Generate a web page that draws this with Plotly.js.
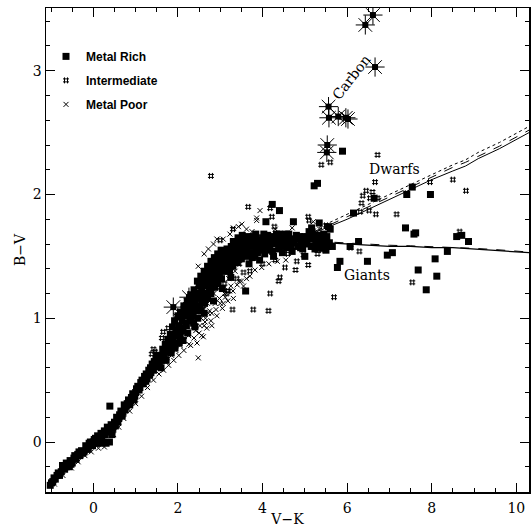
<!DOCTYPE html>
<html><head><meta charset="utf-8">
<script src="https://cdn.plot.ly/plotly-3.0.1.min.js"></script>
<style>body{margin:0;background:#fff}#plot{width:532px;height:527px}</style>
</head><body><div id="plot"></div>
<script>
// ---- Data ----
var mrLower = [[-1.02,-0.35],[-0.96,-0.32],[-0.9,-0.3],[-0.86,-0.27],[-0.8,-0.27],[-0.76,-0.24],[-0.73,-0.19],[-0.68,-0.22],[-0.62,-0.19],[-0.57,-0.2],[-0.55,-0.15],[-0.5,-0.17],[-0.46,-0.13],[-0.41,-0.14],[-0.37,-0.1],[-0.32,-0.11],[-0.28,-0.07],[-0.22,-0.08],[-0.18,-0.03],[-0.12,-0.05],[-0.07,0.0],[-0.02,-0.03],[0.02,0.02],[0.07,-0.01],[0.1,0.05],[0.15,-0.01],[0.18,0.07],[0.22,0.0],[0.26,0.09],[0.3,-0.01],[0.33,0.12],[0.38,0.0],[0.42,0.14],[0.44,0.06],[0.39,0.29],[0.5,0.16],[0.55,0.2],[0.6,0.19],[0.65,0.25],[0.7,0.24],[0.73,0.3],[0.78,0.29],[0.83,0.34],[0.88,0.33],[0.93,0.39],[0.98,0.37],[1.02,0.43],[1.08,0.42],[1.12,0.48],[1.18,0.47],[1.21,0.53],[1.27,0.51],[1.31,0.58],[1.36,0.56],[1.39,0.63],[1.45,0.61],[1.48,0.67],[1.53,0.64]];
var mrLowerFill = [[-0.99,-0.33],[-0.93,-0.29],[-0.83,-0.25],[-0.7,-0.2],[-0.64,-0.17],[-0.53,-0.18],[-0.44,-0.11],[-0.34,-0.08],[-0.25,-0.09],[-0.15,-0.06],[-0.1,-0.01],[0.0,0.0],[0.05,0.03],[0.13,0.02],[0.2,0.04],[0.28,0.06],[0.35,0.08],[0.46,0.11],[0.52,0.13],[0.58,0.16],[0.62,0.22],[0.68,0.21],[0.75,0.26],[0.8,0.31],[0.86,0.3],[0.9,0.36],[0.96,0.34],[1.0,0.4],[1.05,0.45],[1.1,0.44],[1.15,0.5],[1.24,0.49],[1.25,0.55],[1.33,0.54],[1.35,0.6],[1.42,0.58],[1.44,0.65],[1.5,0.7]];
var mrMiddle = [[1.56,0.62],[1.58,0.7],[1.62,0.66],[1.64,0.75],[1.68,0.69],[1.7,0.79],[1.74,0.73],[1.76,0.83],[1.8,0.76],[1.82,0.87],[1.85,0.81],[1.87,0.93],[1.9,0.86],[1.92,0.98],[1.95,0.9],[1.97,0.8],[2.0,1.02],[2.02,0.94],[2.05,0.85],[2.06,1.05],[2.1,0.98],[2.12,0.9],[2.14,1.1],[2.17,1.02],[2.2,0.94],[2.22,1.14],[2.25,1.06],[2.28,0.98],[2.3,1.19],[2.33,1.1],[2.36,1.02],[2.38,1.23],[2.41,1.14],[2.44,1.06],[2.46,1.3],[2.48,1.2],[2.51,1.1],[2.54,1.34],[2.56,1.25],[2.58,1.15],[2.62,1.38],[2.64,1.29],[2.66,1.2],[2.7,1.42],[2.72,1.33],[2.74,1.24],[2.78,1.46],[2.8,1.37],[2.82,1.28],[2.86,1.49],[2.88,1.4],[2.9,1.31],[2.94,1.52],[2.96,1.43],[2.98,1.35],[3.02,1.55],[3.04,1.46],[3.06,1.38],[3.1,1.5],[3.12,1.41],[3.16,1.56],[3.18,1.45]];
var mrMiddleFill = [[1.6,0.6],[1.66,0.72],[1.72,0.66],[1.78,0.8],[1.84,0.72],[1.88,0.84],[1.93,0.76],[1.99,0.88],[2.03,0.8],[2.08,1.01],[2.08,0.92],[2.12,0.82],[2.16,1.06],[2.18,0.96],[2.23,0.88],[2.24,1.1],[2.27,1.02],[2.32,1.15],[2.34,1.06],[2.37,0.96],[2.4,1.19],[2.43,1.1],[2.47,1.0],[2.5,1.26],[2.52,1.16],[2.55,1.06],[2.58,1.31],[2.6,1.2],[2.63,1.12],[2.67,1.35],[2.68,1.26],[2.7,1.16],[2.75,1.4],[2.76,1.3],[2.78,1.2],[2.84,1.45],[2.85,1.34],[2.87,1.25],[2.92,1.48],[2.93,1.38],[2.95,1.28],[3.0,1.5],[3.01,1.41],[3.03,1.32],[3.08,1.54],[3.08,1.44],[3.14,1.48],[3.14,1.38],[3.2,1.52],[3.2,1.42],[2.4,0.93],[2.62,1.04],[2.84,1.14],[3.05,1.24],[3.25,1.33]];
var mrUpper = [[3.22,1.38],[3.24,1.49],[3.26,1.58],[3.3,1.42],[3.33,1.52],[3.36,1.61],[3.4,1.45],[3.43,1.55],[3.46,1.63],[3.5,1.48],[3.53,1.57],[3.57,1.65],[3.6,1.5],[3.64,1.59],[3.68,1.44],[3.7,1.62],[3.74,1.53],[3.78,1.66],[3.82,1.5],[3.85,1.58],[3.9,1.63],[3.93,1.47],[3.97,1.55],[4.0,1.65],[4.05,1.52],[4.08,1.6],[4.12,1.67],[4.17,1.55],[4.2,1.62],[4.26,1.5],[4.3,1.6],[4.33,1.68],[4.38,1.56],[4.42,1.64],[4.47,1.53],[4.5,1.6],[4.55,1.68],[4.6,1.57],[4.65,1.64],[4.7,1.54],[4.74,1.61],[4.8,1.67],[4.84,1.58],[4.9,1.63],[4.95,1.56],[5.0,1.66],[5.05,1.6],[5.1,1.7],[5.15,1.58],[5.2,1.64],[5.26,1.6],[5.3,1.67],[5.36,1.57],[5.42,1.63],[5.47,1.59],[5.52,1.66],[5.58,1.61]];
var mrUpperFill = [[3.25,1.44],[3.28,1.54],[3.31,1.62],[3.35,1.47],[3.38,1.56],[3.42,1.65],[3.45,1.5],[3.48,1.59],[3.52,1.67],[3.55,1.53],[3.6,1.62],[3.62,1.55],[3.66,1.66],[3.72,1.58],[3.76,1.49],[3.8,1.62],[3.84,1.68],[3.88,1.53],[3.95,1.6],[4.02,1.57],[4.03,1.68],[4.1,1.64],[4.15,1.58],[4.22,1.66],[4.24,1.54],[4.28,1.64],[4.36,1.61],[4.4,1.68],[4.45,1.58],[4.52,1.64],[4.58,1.61],[4.62,1.68],[4.68,1.59],[4.77,1.64],[4.87,1.66],[4.92,1.6],[5.02,1.62],[5.08,1.65],[5.18,1.68],[5.24,1.56],[5.33,1.62],[5.45,1.68],[5.55,1.58]];
var mrScatter = [[3.6,1.22],[4.08,1.78],[4.23,1.92],[4.4,1.87],[4.73,1.78],[5.16,1.73],[5.34,1.77],[5.22,2.07],[5.3,2.09],[5.56,1.74],[5.6,1.72],[5.89,2.35],[6.15,1.85],[6.64,1.97],[7.54,2.06],[7.41,2.0],[7.97,2.0],[7.38,1.73],[7.58,1.68],[7.62,1.69],[8.59,1.66],[8.71,1.67],[8.87,1.62],[8.37,1.54],[8.08,1.48],[7.68,1.39],[8.12,1.34],[7.87,1.23],[6.95,1.51],[7.07,1.53],[6.48,1.46],[6.27,1.62],[5.83,1.46],[5.77,1.41],[5.0,1.5],[4.9,1.57],[5.4,1.6],[5.5,1.55],[5.65,1.58],[6.07,1.58]];
var intermediate = [[2.78,2.15],[3.66,1.9],[4.18,1.89],[4.22,1.82],[4.28,1.74],[5.08,1.82],[5.1,1.79],[5.39,2.24],[5.6,2.26],[6.72,2.32],[6.66,2.1],[6.6,2.02],[6.45,2.03],[6.37,1.99],[6.34,1.93],[6.54,1.97],[6.72,1.97],[6.31,1.86],[6.52,1.87],[6.68,1.84],[7.17,1.84],[7.41,2.01],[7.96,2.1],[8.5,2.12],[8.81,2.03],[8.66,1.7],[7.54,1.29],[5.69,1.17],[4.18,1.2],[4.14,1.06],[4.38,1.3],[4.41,1.33],[4.53,1.41],[4.78,1.39],[3.29,1.07],[3.78,1.07],[3.39,1.32],[3.55,1.37],[4.81,1.46],[5.08,1.43],[6.08,1.57],[6.29,1.54],[5.4,1.55],[4.97,1.51],[2.13,1.08],[2.82,1.44],[2.84,1.47],[3.15,1.2],[3.18,1.22],[1.77,0.92],[1.65,0.89],[1.62,0.84],[1.42,0.75],[1.38,0.71],[1.46,0.73],[2.56,1.31],[2.74,1.4],[3.3,1.72],[3.0,1.63],[5.4,1.68],[5.5,1.75],[5.2,1.66],[4.95,1.6],[4.6,1.52],[4.3,1.47],[4.0,1.44],[3.7,1.38],[2.4,1.0],[2.6,1.1],[2.9,1.25],[3.1,1.28],[3.45,1.44],[3.9,1.57],[4.5,1.68],[5.3,1.52]];
var metalPoor = [[-0.92,-0.34],[-0.72,-0.27],[-0.52,-0.21],[-0.36,-0.16],[-0.2,-0.11],[-0.05,-0.08],[0.12,-0.05],[0.26,-0.04],[0.48,0.06],[0.6,0.12],[0.72,0.19],[0.86,0.25],[1.0,0.31],[1.14,0.37],[1.28,0.44],[1.42,0.5],[1.55,0.55],[1.66,0.58],[1.78,0.62],[1.9,0.66],[2.02,0.7],[2.14,0.74],[2.26,0.79],[2.38,0.84],[2.48,0.68],[2.5,0.88],[2.6,0.85],[2.62,0.94],[2.64,0.97],[2.72,1.04],[2.8,0.94],[2.8,1.04],[2.9,1.07],[3.0,1.12],[3.07,1.12],[3.12,1.17],[3.22,1.22],[3.31,1.16],[3.4,1.27],[3.5,1.3],[3.62,1.32],[3.82,1.39],[3.98,1.41],[4.15,1.44],[4.35,1.46],[4.55,1.47],[2.2,0.88],[2.35,0.93],[2.55,1.0],[2.7,1.12],[2.85,1.2],[3.0,1.25],[3.2,1.32],[3.35,1.38],[2.46,1.27],[2.48,1.42],[2.62,1.52],[2.72,1.56],[2.84,1.6],[2.92,1.64],[3.07,1.64],[3.23,1.68],[3.31,1.73],[3.43,1.74],[3.51,1.76],[3.86,1.79],[3.94,1.87],[3.86,1.81],[3.62,1.72],[3.75,1.7],[2.3,1.2],[2.2,1.14],[2.05,1.06],[1.95,1.02],[5.2,1.78],[4.3,1.72],[4.7,1.73],[5.35,1.72]];
var metalPoorFringe = [[1.85,0.7],[1.95,0.74],[2.05,0.78],[2.15,0.82],[2.25,0.86],[2.3,0.78],[2.42,0.9],[2.45,0.8],[2.52,0.94],[2.56,0.86],[2.65,1.0],[2.68,0.92],[2.75,1.06],[2.78,0.98],[2.88,1.12],[2.92,1.02],[2.98,1.16],[3.05,1.08],[3.1,1.2],[3.18,1.14],[3.25,1.26],[3.3,1.22],[3.45,1.3],[3.55,1.26],[3.7,1.34],[1.75,0.68],[2.1,0.86],[2.35,0.98]];
var carbon = [[6.61,3.45],[6.43,3.37],[6.66,3.03],[5.56,2.71],[5.57,2.62],[5.79,2.63],[5.97,2.62],[6.02,2.61],[5.53,2.4],[5.52,2.34],[1.89,1.09],[2.26,1.17]];
var dwarfX = [4.0, 4.5, 5.0, 5.5, 6.0, 6.5, 7.0, 7.5, 8.0, 8.5, 8.8, 9.1, 9.6, 10.3];
var dwarfSolidY = [1.56, 1.6, 1.66, 1.73, 1.8, 1.88, 1.96, 2.04, 2.12, 2.19, 2.23, 2.29, 2.37, 2.5];
var dwarfDashY = [1.56, 1.61, 1.67, 1.74, 1.82, 1.9, 1.98, 2.06, 2.14, 2.22, 2.26, 2.31, 2.39, 2.52];
var dwarfDotY = [1.57, 1.62, 1.68, 1.76, 1.84, 1.92, 2.0, 2.08, 2.16, 2.24, 2.28, 2.34, 2.42, 2.55];
var giantX = [4.0, 4.5, 5.0, 5.5, 6.0, 6.5, 7.0, 7.5, 8.0, 8.5, 9.0, 9.5, 10.3];
var giantSolidY = [1.64, 1.63, 1.62, 1.61, 1.6, 1.59, 1.58, 1.58, 1.57, 1.57, 1.56, 1.55, 1.53];
var giantDashY = [1.645, 1.635, 1.625, 1.615, 1.605, 1.595, 1.59, 1.585, 1.58, 1.575, 1.565, 1.555, 1.535];
var legendNames = ['Metal Rich', 'Intermediate', 'Metal Poor'];

// ---- Build traces ----
var metalRich = mrLower.concat(mrLowerFill, mrMiddle, mrMiddleFill, mrUpper, mrUpperFill, mrScatter);
var metalPoorAll = metalPoor.concat(metalPoorFringe);
function xs(a){return a.map(function(p){return p[0];});}
function ys(a){return a.map(function(p){return p[1];});}
var SERIF = 'DejaVu Serif, Liberation Serif, serif';
var traces = [
  {type:'scatter', mode:'markers', name:legendNames[2], x:xs(metalPoorAll), y:ys(metalPoorAll),
   legendgroup:'c', legendrank:3,
   marker:{symbol:'x-thin-open', size:5, color:'black', line:{color:'black', width:1}}},
  {type:'scatter', mode:'markers', name:legendNames[1], x:xs(intermediate), y:ys(intermediate),
   legendgroup:'b', legendrank:2,
   marker:{symbol:'hash-open', size:6, color:'black', line:{color:'black', width:1}}},
  {type:'scatter', mode:'markers', name:legendNames[0], x:xs(metalRich), y:ys(metalRich),
   legendgroup:'a', legendrank:1,
   marker:{symbol:'square', size:7, color:'black', line:{width:0}}},
  {type:'scatter', mode:'markers', x:xs(carbon), y:ys(carbon), showlegend:false,
   marker:{symbol:'asterisk-open', size:16, color:'black', line:{color:'black', width:1}}},
  {type:'scatter', mode:'markers', x:xs(carbon), y:ys(carbon), showlegend:false,
   marker:{symbol:'square', size:6, color:'black'}},
  {type:'scatter', mode:'lines', x:dwarfX, y:dwarfSolidY, showlegend:false, line:{color:'black', width:1}},
  {type:'scatter', mode:'lines', x:dwarfX, y:dwarfDashY, showlegend:false, line:{color:'black', width:1, dash:'dash'}},
  {type:'scatter', mode:'lines', x:dwarfX, y:dwarfDotY, showlegend:false, line:{color:'black', width:1, dash:'dot'}},
  {type:'scatter', mode:'lines', x:giantX, y:giantSolidY, showlegend:false, line:{color:'black', width:1.2}},
  {type:'scatter', mode:'lines', x:giantX, y:giantDashY, showlegend:false, line:{color:'black', width:1, dash:'dash'}}
];

var axisCommon = {
  showline:true, linecolor:'black', linewidth:1.5, mirror:'allticks',
  ticks:'inside', ticklen:9, tickwidth:1, tickcolor:'black',
  showgrid:false, zeroline:false,
  tickfont:{family:SERIF, size:14, color:'black'}
};
var layout = {
  width:532, height:527,
  margin:{l:46, r:3, t:8, b:35},
  paper_bgcolor:'white', plot_bgcolor:'white',
  showlegend:true,
  legend:{x:0.0, y:0.93, xanchor:'left', yanchor:'top', bgcolor:'rgba(0,0,0,0)',
          font:{family:'Liberation Sans, Arial, sans-serif', size:12, color:'black', weight:'bold'},
          tracegroupgap:5, traceorder:'grouped'},
  xaxis:Object.assign({}, axisCommon, {
    range:[-1.12, 10.3], tick0:0, dtick:2, ticklabelstandoff:3,
    minor:{dtick:0.5, tick0:0, ticks:'inside', ticklen:4, tickwidth:1, tickcolor:'black'},
    title:{text:'V\u2212K', font:{family:SERIF, size:14, color:'black'}, standoff:2}
  }),
  yaxis:Object.assign({}, axisCommon, {
    range:[-0.404, 3.507], tick0:0, dtick:1,
    minor:{dtick:0.2, tick0:0, ticks:'inside', ticklen:4, tickwidth:1, tickcolor:'black'},
    title:{text:'B\u2212V', font:{family:SERIF, size:14, color:'black'}, standoff:4}
  }),
  annotations:[
    {x:6.1, y:2.95, xref:'x', yref:'y', text:'Carbon', showarrow:false, textangle:-52,
     font:{family:SERIF, size:14, color:'black'}},
    {x:7.13, y:2.21, xref:'x', yref:'y', text:'Dwarfs', showarrow:false,
     font:{family:SERIF, size:14, color:'black'}},
    {x:6.48, y:1.35, xref:'x', yref:'y', text:'Giants', showarrow:false,
     font:{family:SERIF, size:14, color:'black'}}
  ]
};
Plotly.newPlot('plot', traces, layout, {staticPlot:true, displayModeBar:false});
</script>
</body></html>
